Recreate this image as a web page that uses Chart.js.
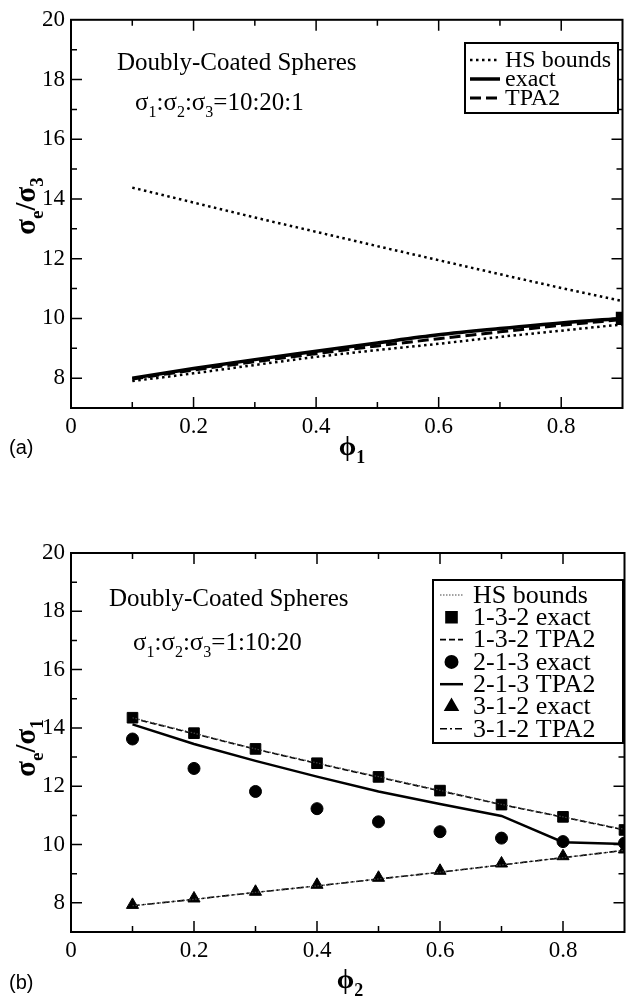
<!DOCTYPE html>
<html>
<head>
<meta charset="utf-8">
<script src="https://cdn.jsdelivr.net/npm/chart.js@4.4.0/dist/chart.umd.min.js"></script>
<style>
  body { margin: 0; background: #fff; }
  #wrap { position: relative; width: 633px; height: 996px; }
  canvas { position: absolute; left: 0; }
  #chartA { top: 0; }
  #chartB { top: 470px; }
</style>
</head>
<body>
<div id="wrap">
  <canvas id="chartA" width="633" height="470"></canvas>
  <canvas id="chartB" width="633" height="526"></canvas>
</div>
<script>
// volume fraction (x) and tick labels, shared by both panels
const phi = [0.1, 0.2, 0.3, 0.4, 0.5, 0.6, 0.7, 0.8, 0.9];
const xTicks = [0, 0.2, 0.4, 0.6, 0.8];
const yTicks = [8, 10, 12, 14, 16, 18, 20];

// panel (a)  sigma1:sigma2:sigma3 = 10:20:1
const hsUpperA = [14.38, 13.88, 13.38, 12.9, 12.42, 11.95, 11.48, 11.02, 10.58];
const hsLowerA = [7.9, 8.16, 8.44, 8.71, 8.94, 9.15, 9.38, 9.59, 9.8];
const exactA = [8.0, 8.32, 8.62, 8.9, 9.18, 9.45, 9.66, 9.85, 10.0];
const tpa2A = [7.97, 8.27, 8.55, 8.82, 9.08, 9.32, 9.55, 9.77, 9.96];

// panel (b)  sigma1:sigma2:sigma3 = 1:10:20
const hsUpperB = [14.35, 13.82, 13.28, 12.8, 12.33, 11.86, 11.38, 10.95, 10.52];
const hsLowerB = [7.9, 8.12, 8.36, 8.58, 8.82, 9.05, 9.3, 9.55, 9.8];
const exact132 = [14.35, 13.82, 13.28, 12.79, 12.32, 11.85, 11.37, 10.95, 10.5];
const tpa2_132 = [14.33, 13.8, 13.27, 12.78, 12.31, 11.84, 11.37, 10.94, 10.5];
const exact213 = [13.62, 12.61, 11.82, 11.23, 10.78, 10.44, 10.22, 10.1, 10.05];
const tpa2_213 = [14.12, 13.45, 12.87, 12.33, 11.82, 11.39, 10.98, 10.08, 10.02];
const exact312 = [7.93, 8.15, 8.38, 8.62, 8.86, 9.1, 9.35, 9.6, 9.83];
const tpa2_312 = [7.9, 8.12, 8.36, 8.58, 8.82, 9.05, 9.3, 9.55, 9.8];

const SERIF = '"Liberation Serif", "Times New Roman", serif';
const SANS = '"Liberation Sans", Arial, sans-serif';

function pts(ys) {
  return phi.map((x, i) => ({ x: x, y: ys[i] }));
}

// text with subscripts: runs = [[text, isSub], ...], y is baseline
function richText(ctx, runs, x, y, size, bold, draw) {
  let cx = x;
  runs.forEach(r => {
    const fs = r[1] ? Math.round(size * 0.64) : size;
    ctx.font = (bold ? 'bold ' : '') + fs + 'px ' + SERIF;
    if (draw) ctx.fillText(r[0], cx, y + (r[1] ? size * 0.28 : 0));
    cx += ctx.measureText(r[0]).width;
  });
  return cx - x;
}

function drawMark(ctx, ds, x, y) {
  const opts = { pointStyle: ds.pointStyle, radius: ds.pointRadius, rotation: 0, borderWidth: 1 };
  Chart.helpers.drawPoint(ctx, opts, x, y);
}

// frame, inward ticks, labels, legend
function decoPlugin(p) {
  return {
    id: 'deco',
    afterDatasetsDraw(chart) {
      const ctx = chart.ctx;
      const a = chart.chartArea;
      const x = chart.scales.x, y = chart.scales.y;
      ctx.save();
      ctx.strokeStyle = '#000';
      ctx.lineWidth = 1.5;
      ctx.beginPath();
      for (let i = 1; i < 9; i++) {
        const px = x.getPixelForValue(i / 10);
        const len = i % 2 === 0 ? 11 : 6;
        ctx.moveTo(px, a.bottom); ctx.lineTo(px, a.bottom - len);
        ctx.moveTo(px, a.top); ctx.lineTo(px, a.top + len);
      }
      for (let v = 8; v < 20; v++) {
        const py = y.getPixelForValue(v);
        const len = v % 2 === 0 ? 11 : 6;
        ctx.moveTo(a.left, py); ctx.lineTo(a.left + len, py);
        ctx.moveTo(a.right, py); ctx.lineTo(a.right - len, py);
      }
      ctx.stroke();
      ctx.lineWidth = 2;
      ctx.strokeRect(a.left, a.top, a.right - a.left, a.bottom - a.top);
      ctx.restore();
    },
    afterDraw(chart) {
      const ctx = chart.ctx;
      ctx.save();
      ctx.fillStyle = '#000';
      ctx.textBaseline = 'alphabetic';

      // annotations
      richText(ctx, [['Doubly-Coated Spheres', false]], p.title.x, p.title.y, 25, false, true);
      richText(ctx, p.ratio, p.ratioPos.x, p.ratioPos.y, 25, false, true);

      // x axis title
      let w = richText(ctx, p.xTitle, 0, 0, 28, true, false);
      richText(ctx, p.xTitle, p.xTitlePos.x - w / 2, p.xTitlePos.y, 28, true, true);

      // y axis title, rotated
      w = richText(ctx, p.yTitle, 0, 0, 29, true, false);
      ctx.save();
      ctx.translate(p.yTitlePos.x, p.yTitlePos.y);
      ctx.rotate(-Math.PI / 2);
      richText(ctx, p.yTitle, -w / 2, 9, 29, true, true);
      ctx.restore();

      // panel tag
      ctx.font = '20px ' + SANS;
      ctx.textBaseline = 'middle';
      ctx.fillText(p.tag, p.tagPos.x, p.tagPos.y);

      // legend
      const L = p.legend;
      ctx.fillStyle = '#fff';
      ctx.fillRect(L.x, L.y, L.w, L.h);
      ctx.strokeStyle = '#000';
      ctx.lineWidth = 2;
      ctx.strokeRect(L.x, L.y, L.w, L.h);
      L.rows.forEach((di, r) => {
        const ds = chart.data.datasets[di];
        const ry = L.row0 + r * L.step;
        ctx.fillStyle = '#000';
        ctx.strokeStyle = ds.borderColor || '#000';
        if (ds.showLine === false) {
          drawMark(ctx, ds, (L.s1 + L.s2) / 2, ry);
        } else {
          ctx.save();
          ctx.lineWidth = ds.borderWidth;
          ctx.setLineDash(ds.borderDash || []);
          ctx.beginPath();
          ctx.moveTo(L.s1, ry);
          ctx.lineTo(L.s2, ry);
          ctx.stroke();
          ctx.restore();
        }
        ctx.fillStyle = '#000';
        ctx.font = L.font + 'px ' + SERIF;
        ctx.textBaseline = 'middle';
        ctx.fillText(ds.label, L.tx, ry + 1);
      });
      ctx.restore();
    }
  };
}

function makeChart(id, datasets, p) {
  return new Chart(document.getElementById(id), {
    type: 'line',
    data: { datasets: datasets },
    options: {
      responsive: false,
      animation: false,
      layout: { padding: { top: p.padTop, right: p.padRight, left: 0, bottom: 0 } },
      plugins: { legend: { display: false }, tooltip: { enabled: false } },
      scales: {
        x: {
          type: 'linear', min: 0, max: 0.9,
          border: { display: false },
          grid: { display: false, drawTicks: false },
          afterBuildTicks: s => { s.ticks = xTicks.map(v => ({ value: v })); },
          afterFit: s => { s.height = p.xAxisH; },
          ticks: {
            color: '#000', font: { family: SERIF, size: 23 }, padding: 5,
            maxRotation: 0, autoSkip: false,
            callback: v => String(v)
          }
        },
        y: {
          type: 'linear', min: 7, max: 20,
          border: { display: false },
          grid: { display: false, drawTicks: false },
          afterBuildTicks: s => { s.ticks = yTicks.map(v => ({ value: v })); },
          afterFit: s => { s.width = 71; },
          ticks: {
            color: '#000', font: { family: SERIF, size: 23 }, padding: 6,
            autoSkip: false, callback: v => String(v)
          }
        }
      }
    },
    plugins: [decoPlugin(p)]
  });
}

// ---- panel (a)
const dotted = { borderColor: '#000', borderWidth: 2.5, borderDash: [2.5, 3.5], pointRadius: 0, cubicInterpolationMode: 'monotone' };
const dsA = [
  Object.assign({ label: 'HS bounds', data: pts(hsUpperA) }, dotted),
  Object.assign({ label: 'HS bounds', data: pts(hsLowerA) }, dotted),
  {
    label: 'exact', data: pts(exactA), borderColor: '#000', borderWidth: 3.5,
    cubicInterpolationMode: 'monotone', pointStyle: 'rect',
    pointRadius: c => (c.dataIndex === phi.length - 1 ? 7 : 0),
    pointBackgroundColor: '#000', pointBorderColor: '#000'
  },
  { label: 'TPA2', data: pts(tpa2A), borderColor: '#000', borderWidth: 3, borderDash: [11, 5], pointRadius: 0, cubicInterpolationMode: 'monotone' }
];

makeChart('chartA', dsA, {
  padTop: 17, padRight: 1, xAxisH: 62,
  title: { x: 117, y: 70 },
  ratio: [['σ', false], ['1', true], [':σ', false], ['2', true], [':σ', false], ['3', true], ['=10:20:1', false]],
  ratioPos: { x: 135, y: 110 },
  xTitle: [['ϕ', false], ['1', true]],
  xTitlePos: { x: 352, y: 455 },
  yTitle: [['σ', false], ['e', true], ['/σ', false], ['3', true]],
  yTitlePos: { x: 26, y: 206 },
  tag: '(a)', tagPos: { x: 9, y: 448 },
  legend: { x: 465, y: 43, w: 153, h: 70, row0: 60, step: 19, s1: 470, s2: 500, tx: 505, font: 24, rows: [0, 2, 3] }
});

// ---- panel (b)
const hsThin = { borderColor: '#444', borderWidth: 1.2, borderDash: [1.5, 1.5], pointRadius: 0 };
const dsB = [
  Object.assign({ label: 'HS bounds', data: pts(hsUpperB) }, hsThin),
  Object.assign({ label: 'HS bounds', data: pts(hsLowerB) }, hsThin),
  { label: '1-3-2 exact', data: pts(exact132), showLine: false, pointStyle: 'rect', pointRadius: 7.5, pointBackgroundColor: '#000', pointBorderColor: '#000', borderColor: '#000' },
  { label: '1-3-2 TPA2', data: pts(tpa2_132), borderColor: '#000', borderWidth: 1.6, borderDash: [6, 3], pointRadius: 0 },
  { label: '2-1-3 exact', data: pts(exact213), showLine: false, pointStyle: 'circle', pointRadius: 6, pointBackgroundColor: '#000', pointBorderColor: '#000', borderColor: '#000' },
  { label: '2-1-3 TPA2', data: pts(tpa2_213), borderColor: '#000', borderWidth: 2.5, pointRadius: 0 },
  { label: '3-1-2 exact', data: pts(exact312), showLine: false, pointStyle: 'triangle', pointRadius: 7, pointBackgroundColor: '#000', pointBorderColor: '#000', borderColor: '#000' },
  { label: '3-1-2 TPA2', data: pts(tpa2_312), borderColor: '#000', borderWidth: 1.6, borderDash: [7, 3, 2, 3], pointRadius: 0 }
];

makeChart('chartB', dsB, {
  padTop: 83, padRight: 5, xAxisH: 64,
  title: { x: 109, y: 136 },
  ratio: [['σ', false], ['1', true], [':σ', false], ['2', true], [':σ', false], ['3', true], ['=1:10:20', false]],
  ratioPos: { x: 133, y: 180 },
  xTitle: [['ϕ', false], ['2', true]],
  xTitlePos: { x: 350, y: 518 },
  yTitle: [['σ', false], ['e', true], ['/σ', false], ['1', true]],
  yTitlePos: { x: 26, y: 278 },
  tag: '(b)', tagPos: { x: 9, y: 513 },
  legend: { x: 433, y: 110, w: 190, h: 163, row0: 125, step: 22.3, s1: 440, s2: 463, tx: 473, font: 26, rows: [0, 2, 3, 4, 5, 6, 7] }
});
</script>
</body>
</html>
